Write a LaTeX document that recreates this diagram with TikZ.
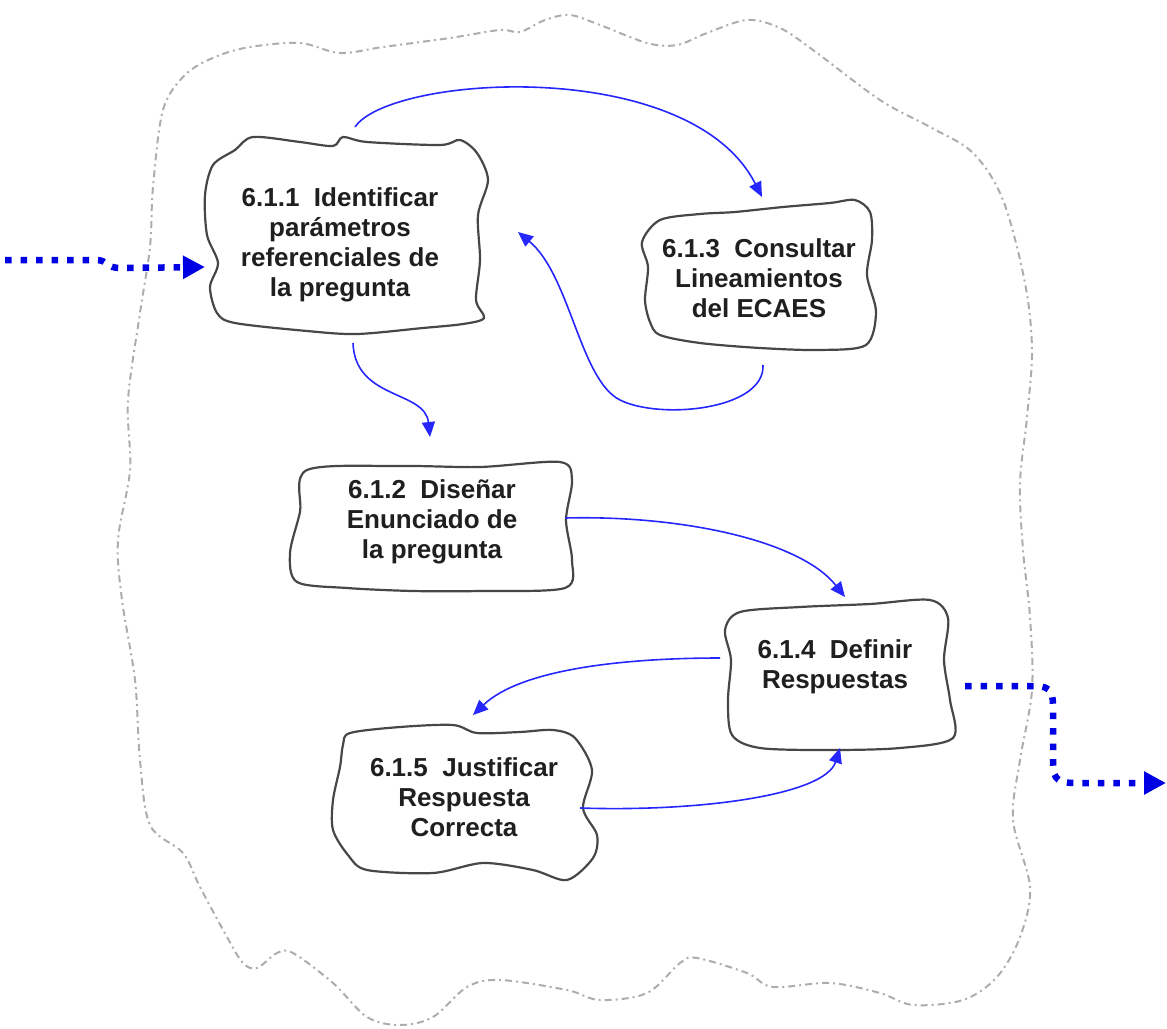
\documentclass[tikz,border=0pt]{standalone}
\usepackage{fontspec}
\setmainfont{Liberation Sans}
\usetikzlibrary{arrows.meta,calc}
\begin{document}
\begin{tikzpicture}[x=1pt,y=-1pt,
  boxtext/.style={align=center,font=\fontsize{26}{30}\selectfont\bfseries,inner sep=0pt,text=black!88},
  outline/.style={draw=black!72,line width=2.2pt,fill=white,line join=round},
  boundary/.style={draw=black!32,line width=2pt,dash pattern=on 7pt off 4pt on 2pt off 4pt},
  flow/.style={draw=blue!85!white,line width=1.6pt,-{Triangle[length=15pt,width=13pt]}},
  bigflow/.style={draw=blue!90!black,line width=6.5pt,dash pattern=on 6.5pt off 9pt,-{Triangle[length=22pt,width=22pt]}}]
\useasboundingbox (0,0) rectangle (1167,1028);

% outer process boundary
\draw[boundary] plot[smooth cycle,tension=0.55] coordinates {
 (153,187) (163,110) (185,75) (215,57) (250,47) (300,43) (340,53) (383,47) (450,38) (500,30)
 (520,32) (545,20) (570,15) (600,25) (647,43) (677,45) (707,33) (747,20) (780,28) (813,50)
 (880,100) (930,127) (973,153) (1003,200) (1025,283) (1032,350) (1027,417) (1020,483)
 (1023,550) (1030,617) (1032,690) (1020,760) (1013,820) (1030,887) (1020,937) (997,977)
 (963,1000) (913,1005) (880,993) (830,983) (773,987) (747,973) (697,958) (680,963)
 (647,993) (600,1000) (567,990) (500,980) (467,987) (433,1017) (400,1025) (367,1017)
 (333,983) (293,953) (277,953) (257,968) (243,963) (227,937) (200,887) (183,853) (150,825)
 (140,760) (135,680) (122,600) (118,540) (130,470) (128,400) (140,313) (150,247)};

% wobbly boxes
\draw[outline] plot[smooth cycle,tension=0.5] coordinates {
 (235,150) (253,137) (300,142) (333,146) (343,137) (367,142) (440,145) (460,140) (477,153)
 (488,180) (478,215) (480,260) (476,300) (484,318) (463,324) (423,328) (357,334) (307,331)
 (235,323) (217,313) (210,287) (218,263) (207,235) (205,195) (213,165)};
\draw[outline] plot[smooth cycle,tension=0.5] coordinates {
 (660,220) (700,214) (735,212) (783,207) (830,203) (855,200) (870,212) (872,240) (867,275)
 (876,312) (866,345) (820,350) (760,348) (700,343) (660,335) (650,322) (645,300) (648,267)
 (642,242)};
\draw[outline] plot[smooth cycle,tension=0.5] coordinates {
 (307,470) (400,466) (480,467) (560,462) (572,480) (566,520) (572,560) (565,588) (480,591)
 (413,591) (347,588) (297,582) (290,553) (300,512)};
\draw[outline] plot[smooth cycle,tension=0.5] coordinates {
 (740,612) (800,607) (870,604) (930,600) (948,618) (944,660) (950,700) (953,738) (900,748)
 (830,750) (760,748) (732,735) (728,700) (731,660) (725,630)};
\draw[outline] plot[smooth cycle,tension=0.5] coordinates {
 (350,733) (400,727) (453,725) (477,733) (520,732) (553,730) (575,738) (592,770) (583,808)
 (597,835) (593,858) (567,880) (533,870) (483,863) (433,873) (367,870) (348,855) (333,830)
 (333,800) (340,767) (343,745)};

% texts
\node[boxtext] (n611) at (340,245) {6.1.1~~Identificar\\parámetros\\referenciales de\\la pregunta};
\node[boxtext] (n613) at (759,278) {6.1.3~~Consultar\\Lineamientos\\del ECAES};
\node[boxtext] (n612) at (432,522) {6.1.2~~Diseñar\\Enunciado de\\la pregunta};
\node[boxtext] (n614) at (835,667) {6.1.4~~Definir\\Respuestas};
\node[boxtext] (n615) at (464,797) {6.1.5~~Justificar\\Respuesta\\Correcta};

% connectors
\draw[flow] ($(n611.center)+(15,-118)$) .. controls (390,75) and (690,55) .. ($(n613.center)+(3,-81)$);
\draw[flow] ($(n613.center)+(4,87)$) .. controls (765,410) and (660,420) .. (620,400)
  .. controls (580,380) and (570,275) .. ($(n611.center)+(178,-13)$);
\draw[flow] ($(n611.center)+(13,98)$) .. controls (355,400) and (425,390) .. ($(n612.center)+(-2,-85)$);
\draw[flow] ($(n612.center)+(133,-4)$) .. controls (680,515) and (800,540) .. ($(n614.center)+(10,-70)$);
\draw[flow] ($(n614.center)+(-115,-9)$) .. controls (620,658) and (520,670) .. ($(n615.center)+(9,-82)$);
\draw[flow] ($(n615.center)+(116,11)$) .. controls (700,812) and (825,795) .. ($(n614.center)+(5,81)$);

% process input / output
\coordinate (in0) at (5,260);
\coordinate (out0) at (1166,783);
\draw[bigflow] (in0) -- (96,260) .. controls (108,260) and (106,268) .. (120,268) -- ($(n611.center)+(-135,22)$);
\draw[bigflow] ($(n614.center)+(130,19)$) -- (1035,686) .. controls (1053,686) and (1053,695) .. (1053,710)
  -- (1053,765) .. controls (1053,780) and (1060,783) .. (1075,783) -- (out0);
\end{tikzpicture}
\end{document}
